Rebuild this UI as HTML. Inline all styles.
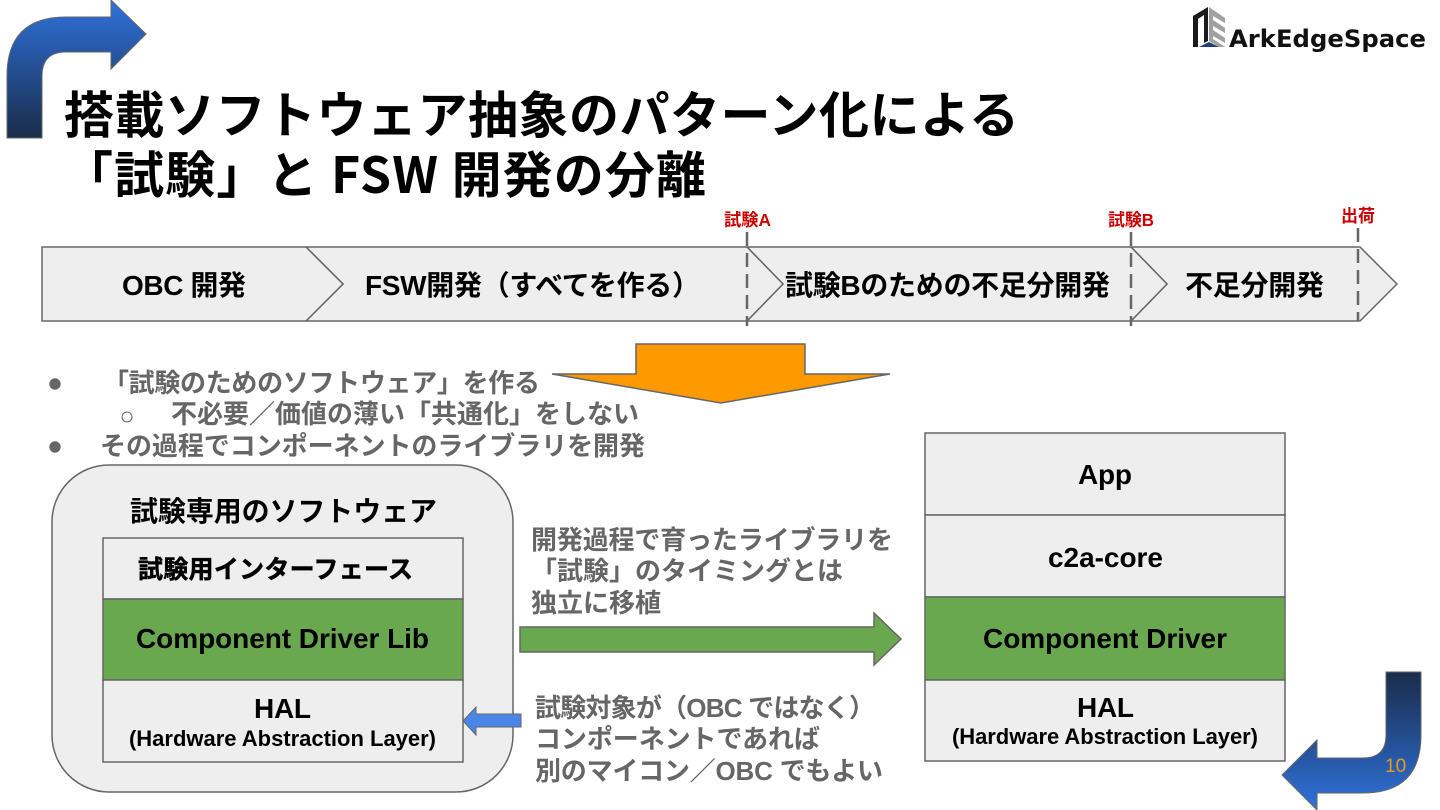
<!DOCTYPE html>
<html><head><meta charset="utf-8"><style>
html,body{margin:0;padding:0;background:#fff;width:1440px;height:810px;overflow:hidden}
svg{display:block}
.j{font-family:"Liberation Sans","Noto Sans CJK JP",sans-serif;font-weight:700}
.n{font-family:"Noto Sans CJK JP",sans-serif;font-weight:700}
.l{font-family:"Liberation Sans",sans-serif;font-weight:700;fill:#000}
.g{fill:#666}
</style></head><body>
<svg width="1440" height="810" viewBox="0 0 1440 810" xmlns="http://www.w3.org/2000/svg">
<defs>
<linearGradient id="a" x1="0" y1="0" x2="0" y2="1"><stop offset="0" stop-color="#2f72dc"/><stop offset="1" stop-color="#1a2c4a"/></linearGradient>
<linearGradient id="b" x1="0" y1="0" x2="0" y2="1"><stop offset="0" stop-color="#1a2c4a"/><stop offset="1" stop-color="#2f72dc"/></linearGradient>
</defs>
<path d="M7 138V76Q7 17 66 17H111V0L146 34L111 69V52H66Q42 52 42 76V138Z" fill="url(#a)" stroke="#666" stroke-width="1"/>
<path d="M1386 672H1421V735Q1421 793 1363 793H1317V810L1282 775L1317 740V758H1363Q1386 758 1386 735Z" fill="url(#b)" stroke="#666" stroke-width="1"/>
<text x="1385" y="772" font-family="Liberation Sans" font-size="19" fill="#e69a1f">10</text>

<!-- logo -->
<path d="M1193 47V16L1208 7V41L1204 43V15L1198 19V47Z" fill="#1a1a1a"/>
<path d="M1209 7L1225 18V23L1213 16V20L1225 28V33L1213 26V30L1225 38V43L1213 36V39L1225 47H1219L1209 41Z" fill="#a0a0a0"/>
<path d="M1199 47L1209 42L1219 47Z" fill="#1c3f73"/>
<text x="1229" y="47" font-family="DejaVu Sans" font-weight="700" font-size="24" textLength="197" lengthAdjust="spacingAndGlyphs" fill="#111">ArkEdgeSpace</text>

<!-- title -->
<text class="n" x="64" y="133" font-size="50" textLength="955" fill="#000">搭載ソフトウェア抽象のパターン化による</text>
<text class="n" x="63" y="193" font-size="50" textLength="643" fill="#000">「試験」と FSW 開発の分離</text>

<!-- chevrons -->
<g fill="#eeeeee" stroke="#666" stroke-width="1.5">
<path d="M1131 247H1360L1397 284L1360 321H1131L1167 284Z"/>
<path d="M747 247H1131L1167 284L1131 321H747L783 284Z"/>
<path d="M306 247H747L783 284L747 321H306L343 284Z"/>
<path d="M42 247H306L343 284L306 321H42Z"/>
</g>
<g stroke="#666" stroke-width="2.5" stroke-dasharray="14 7" fill="none">
<path d="M747 232V326"/><path d="M1131 232V326"/><path d="M1358 228V321"/>
</g>
<g class="j" fill="#cc0000" font-size="17.5">
<text x="724" y="226" textLength="47" lengthAdjust="spacingAndGlyphs">試験A</text>
<text x="1108" y="226" textLength="46" lengthAdjust="spacingAndGlyphs">試験B</text>
<text x="1341" y="222" textLength="34" lengthAdjust="spacingAndGlyphs">出荷</text>
</g>
<g class="j" fill="#000" font-size="28">
<text x="122" y="295" textLength="124">OBC 開発</text>
<text x="365" y="295" textLength="335">FSW開発（すべてを作る）</text>
<text x="785" y="295" textLength="325">試験Bのための不足分開発</text>
<text x="1185" y="295" textLength="139">不足分開発</text>
</g>

<path d="M636 344H805V374H890L721 403L552 374H636Z" fill="#ff9900" stroke="#666" stroke-width="1.5"/>

<!-- bullets -->
<circle cx="55" cy="384" r="5.7" fill="#666"/>
<circle cx="127" cy="417" r="5" fill="none" stroke="#666" stroke-width="1"/>
<circle cx="55" cy="447" r="5.7" fill="#666"/>
<g class="j g" font-size="26">
<text x="103" y="392" textLength="437">「試験のためのソフトウェア」を作る</text>
<text x="171" y="423" textLength="468">不必要／価値の薄い「共通化」をしない</text>
<text x="100" y="455" textLength="545">その過程でコンポーネントのライブラリを開発</text>
</g>

<!-- left block -->
<rect x="52" y="465" width="461" height="327" rx="57" fill="#eeeeee" stroke="#666" stroke-width="1.5"/>
<text class="j" x="130" y="521" font-size="28" textLength="307" fill="#000">試験専用のソフトウェア</text>
<rect x="103" y="538" width="360" height="61" fill="#eeeeee" stroke="#666" stroke-width="1.5"/>
<rect x="103" y="599" width="360" height="81" fill="#6aa84f" stroke="#666" stroke-width="1.5"/>
<rect x="103" y="680" width="360" height="82" fill="#eeeeee" stroke="#666" stroke-width="1.5"/>
<text class="j" x="138" y="578" font-size="25" textLength="275" fill="#000" stroke="#000" stroke-width=".5">試験用インターフェース</text>
<text class="l" x="136" y="648" font-size="28" textLength="293">Component Driver Lib</text>
<text class="l" x="254" y="718" font-size="28" textLength="57">HAL</text>
<text class="l" x="129" y="746" font-size="22" textLength="307">(Hardware Abstraction Layer)</text>

<!-- right block -->
<rect x="925" y="433" width="360" height="82" fill="#eeeeee" stroke="#666" stroke-width="1.5"/>
<rect x="925" y="515" width="360" height="82" fill="#eeeeee" stroke="#666" stroke-width="1.5"/>
<rect x="925" y="597" width="360" height="83" fill="#6aa84f" stroke="#666" stroke-width="1.5"/>
<rect x="925" y="680" width="360" height="81" fill="#eeeeee" stroke="#666" stroke-width="1.5"/>
<text class="l" x="1078" y="484" font-size="28" textLength="54">App</text>
<text class="l" x="1048" y="567" font-size="28" textLength="115">c2a-core</text>
<text class="l" x="983" y="648" font-size="28" textLength="244">Component Driver</text>
<text class="l" x="1077" y="717" font-size="28" textLength="57">HAL</text>
<text class="l" x="952" y="744" font-size="22" textLength="306">(Hardware Abstraction Layer)</text>

<!-- arrows -->
<path d="M520 627H874V613L901 639L874 665V652H520Z" fill="#6aa84f" stroke="#666" stroke-width="1.5"/>
<path d="M521 714H476V707L463 721L476 735V727H521Z" fill="#4a86e8" stroke="#666" stroke-width="1"/>

<!-- middle text -->
<g class="j g" font-size="26">
<text x="531" y="549" textLength="362">開発過程で育ったライブラリを</text>
<text x="531" y="580" textLength="312">「試験」のタイミングとは</text>
<text x="531" y="612" textLength="130">独立に移植</text>
<text x="535" y="717" textLength="340">試験対象が（OBC ではなく）</text>
<text x="535" y="748" textLength="285">コンポーネントであれば</text>
<text x="535" y="780" textLength="348">別のマイコン／OBC でもよい</text>
</g>
</svg>
</body></html>
